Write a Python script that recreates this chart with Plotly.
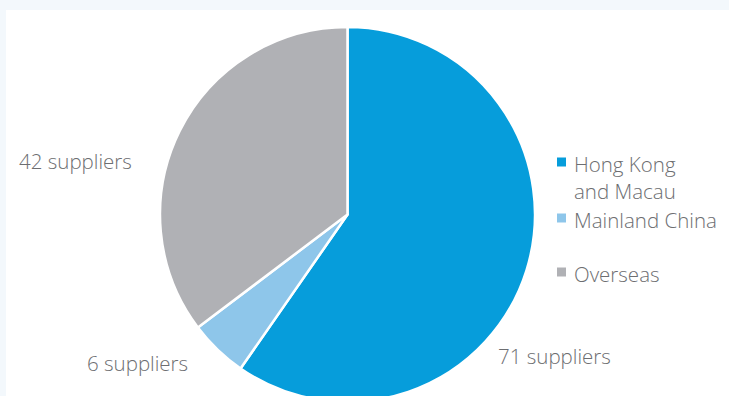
import plotly.graph_objects as go

categories = ["Hong Kong<br>and Macau", "Mainland China", "Overseas"]
suppliers = [71, 6, 42]
colors = ["#069ddb", "#8ec6ea", "#b0b1b5"]

W, H = 729, 402
TXT = "#6d6e71"
FONT = "Open Sans"
FS = 20.5

fig = go.Figure(go.Pie(
    values=suppliers,
    labels=categories,
    sort=False,
    direction="clockwise",
    rotation=0,
    marker=dict(colors=colors, line=dict(color="white", width=2.5)),
    textinfo="none",
    hoverinfo="label+value",
    showlegend=False,
    domain=dict(x=[(347.5 - 187.5) / W, (347.5 + 187.5) / W], y=[0, 1 - 27 / H]),
))

def px(x):
    return x / W

def py(y):
    return 1 - y / H

# white inner panel on light blue frame
fig.add_shape(type="rect", xref="paper", yref="paper", x0=px(6), x1=1.01, y0=-0.01, y1=py(10),
              fillcolor="white", line=dict(width=0), layer="below")

# slice labels
label_pos = [(554, 356), (137, 363), (75, 161)]
for v, (x, y) in zip(suppliers, label_pos):
    fig.add_annotation(x=px(x), y=py(y), xref="paper", yref="paper", text=f"{v} suppliers",
                       showarrow=False, font=dict(family=FONT, size=FS, color=TXT, weight=300),
                       xanchor="center", yanchor="middle")

# custom legend
legend_rows = [162, 218, 272]
for cat, col, y in zip(categories, colors, legend_rows):
    fig.add_shape(type="rect", xref="paper", yref="paper", x0=px(557), x1=px(566),
                  y0=py(y + 4.5), y1=py(y - 4.5), fillcolor=col, line=dict(width=0))
    fig.add_annotation(x=px(572), y=py(y - 14), xref="paper", yref="paper", text=cat,
                       showarrow=False, align="left",
                       font=dict(family=FONT, size=FS, color=TXT, weight=300),
                       xanchor="left", yanchor="top")

fig.update_layout(
    width=W, height=H,
    margin=dict(l=0, r=0, t=0, b=0),
    paper_bgcolor="#f3f8fc",
    plot_bgcolor="white",
)

fig.write_html("out.html",
               post_script="document.body.style.overflow='hidden';document.documentElement.style.overflow='hidden';document.body.style.margin='0';")
